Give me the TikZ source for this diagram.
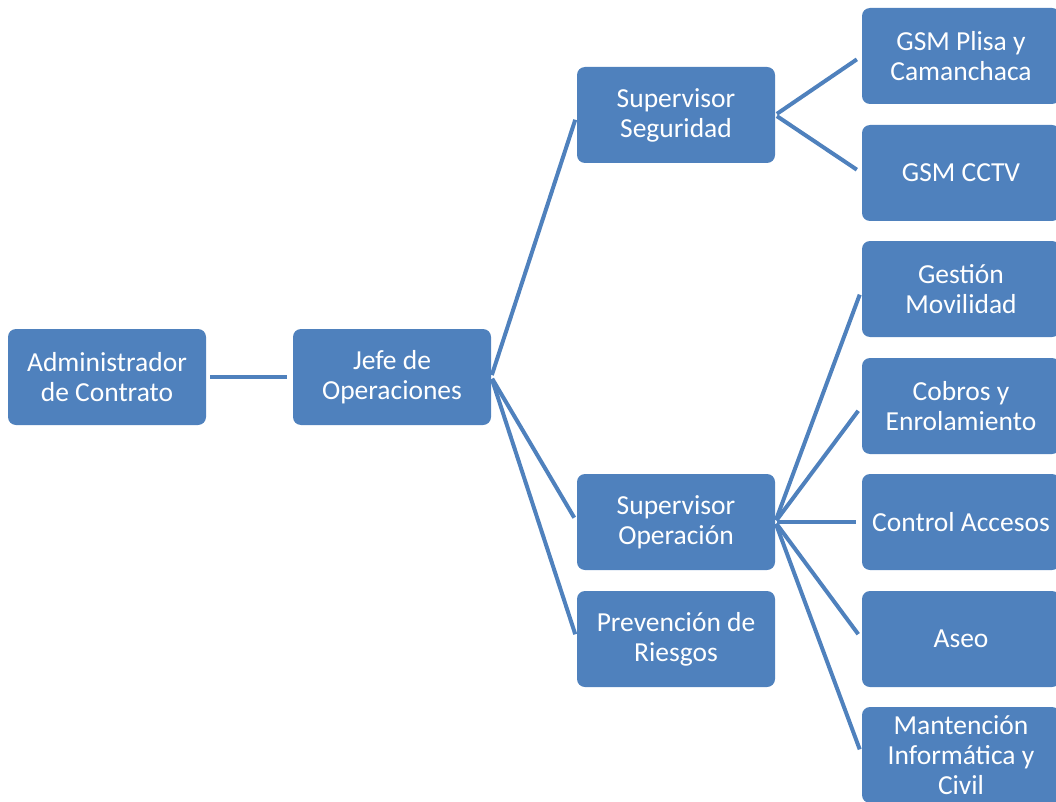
\documentclass[tikz,border=0pt]{standalone}
\usepackage{fontspec}
\setmainfont{Carlito}
\definecolor{obox}{HTML}{4F81BD}
\begin{document}
\begin{tikzpicture}[x=1pt,y=-1pt,
 box/.style={fill=obox, rounded corners=8pt, minimum width=198pt, minimum height=96pt, text=white, align=center, font=\fontsize{27.5}{30}\selectfont, inner sep=2pt},
 link/.style={draw=obox, line width=4pt, shorten <=2pt, shorten >=5pt}]
\useasboundingbox (0,0) rectangle (1056,802);
\clip (0,0) rectangle (1056,802);
\node[box] (adm) at (107,377) {Administrador\\de Contrato};
\node[box] (jefe) at (392,377) {Jefe de\\Operaciones};
\node[box] (sseg) at (676,115) {Supervisor\\Seguridad};
\node[box] (sope) at (676,522) {Supervisor\\Operación};
\node[box] (prev) at (676,639) {Prevención de\\Riesgos};
\node[box] (gsmp) at (961,56) {GSM Plisa y\\Camanchaca};
\node[box] (gsmc) at (961,173) {GSM CCTV};
\node[box] (gest) at (961,289) {Gestión\\Movilidad};
\node[box] (cobr) at (961,406) {Cobros y\\Enrolamiento};
\node[box] (ctrl) at (961,522) {Control Accesos};
\node[box] (aseo) at (961,639) {Aseo};
\node[box] (mant) at (961,755) {Mantención\\Informática y\\Civil};
\draw[link, shorten <=4pt, shorten >=6pt] (adm.east) -- (jefe.west);
\foreach \c in {sseg,sope,prev} \draw[link] (jefe.east) -- (\c.west);
\foreach \c in {gsmp,gsmc} \draw[link, shorten >=6pt] (sseg.east) -- (\c.west);
\foreach \c in {gest,cobr,ctrl,aseo,mant} \draw[link, shorten >=6pt] (sope.east) -- (\c.west);
\end{tikzpicture}
\end{document}
